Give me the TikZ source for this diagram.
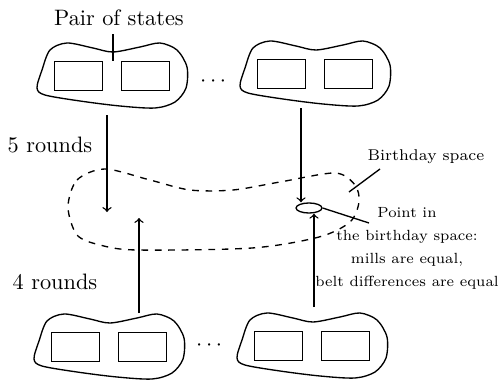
\documentclass[tikz,border=0pt]{standalone}
\usepackage{amsmath,amssymb}
\usepackage{fontspec}
\usetikzlibrary{shapes.geometric}

\begin{document}
\begin{tikzpicture}[x=0.448pt,y=-0.448pt,semithick]
\useasboundingbox (0,0) rectangle (504,381);

% the four groups of two states
\foreach \nm/\cx/\cy in {tl/112/76, tr/315/74, bl/109/347, br/312/346} {
    \draw[shift={(\cx,\cy)}] plot[smooth cycle] coordinates {
        (-45,-33) (-19,-28) (1,-24) (28,-29) (48,-33) (65,-26) (75,-9)
        (74,12) (63,26) (43,32) (8,30) (-32,25) (-67,19) (-75,12)
        (-70,-6) (-62,-26)};
    \node[draw, minimum width=21.5pt, minimum height=13pt, inner sep=0] (\nm a) at ({\cx-33.5},\cy) {};
    \node[draw, minimum width=21.5pt, minimum height=13pt, inner sep=0] (\nm b) at ({\cx+33.5},\cy) {};
}
\node (dtop) at (215,82) {$\cdots$};
\node (dbot) at (211,346) {$\cdots$};

% birthday space and the point in it
\draw[dashed] plot[smooth cycle] coordinates {
    (68,207) (77,180) (105,169) (150,180) (190,190) (233,190) (280,182)
    (335,173) (355,185) (359,202) (350,222) (319,237) (252,248)
    (137,250) (100,245) (77,235)};
\node[draw, ellipse, minimum width=11.6pt, minimum height=4.5pt, inner sep=0] (pt) at (309,208) {};

\node (pairlbl) at (119,18) {Pair of states};
\coordinate (pairtip) at (113,61);
\draw (pairtip |- pairlbl.south) -- (pairtip);

\node (five) at (50,145) {5 rounds};
\node (four) at (55,282) {4 rounds};

\coordinate (tlout) at (107,115);
\coordinate (tlend) at (107,212);
\coordinate (trout) at (301,108);
\coordinate (blout) at (139,313);
\coordinate (blend) at (139,218);
\coordinate (brout) at (314,307);
\draw[->] (tlout) -- (tlend);
\draw[->] (trout) -- (trout |- pt.north);
\draw[->] (blout) -- (blend);
\draw[->] (brout) -- (brout |- pt.south);

\node[font=\fontsize{7}{10}\selectfont] (bdlbl) at (426,157) {Birthday space};
\coordinate (bda) at (380,169);
\coordinate (bdb) at (349,192);
\draw (bda) -- (bdb);

\node[font=\fontsize{6.6}{10.3}\selectfont, align=center, anchor=north] (ptlbl) at (407,199)
    {Point in\\ the birthday space:\\ mills are equal,\\ belt differences are equal};
\coordinate (ptend) at (369,223);
\draw (pt.east) -- (ptend);
\end{tikzpicture}
\end{document}
